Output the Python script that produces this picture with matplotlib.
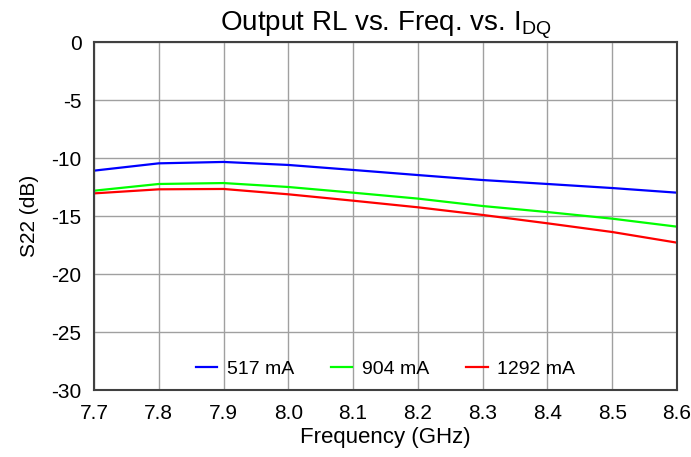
import matplotlib
matplotlib.use("Agg")
import matplotlib.pyplot as plt

freq = [7.7, 7.8, 7.9, 8.0, 8.1, 8.2, 8.3, 8.4, 8.5, 8.6]
s22_517 = [-11.09, -10.46, -10.34, -10.6, -11.03, -11.47, -11.9, -12.24, -12.59, -12.99]
s22_904 = [-12.82, -12.24, -12.16, -12.5, -12.99, -13.5, -14.14, -14.66, -15.23, -15.92]
s22_1292 = [-13.05, -12.7, -12.67, -13.13, -13.68, -14.25, -14.91, -15.63, -16.38, -17.3]
labels = ["517 mA", "904 mA", "1292 mA"]
colors = ["#0000ff", "#00ff00", "#ff0000"]
yticks = [0, -5, -10, -15, -20, -25, -30]

plt.rcParams['font.family'] = ['Liberation Sans', 'DejaVu Sans']
plt.rcParams['axes.unicode_minus'] = False
fig = plt.figure(figsize=(6.91, 4.57), dpi=100)
ax = fig.add_axes([94/691, 1 - 390/457, (677-94)/691, (390-42)/457])

for ys, lab, c in zip([s22_517, s22_904, s22_1292], labels, colors):
    ax.plot(freq, ys, color=c, lw=1.6, label=lab)

ax.set_xlim(7.7, 8.6)
ax.set_ylim(-30, 0)
ax.set_xticks(freq)
ax.set_xticklabels([f"{f:.1f}" for f in freq])
ax.set_yticks(yticks)
ax.grid(True, color="#a0a0a0", lw=1.0)
ax.tick_params(labelsize=15, length=0)
ax.tick_params(axis='x', pad=10)
ax.tick_params(axis='y', pad=9)
for s in ax.spines.values():
    s.set_color("#404040")
    s.set_linewidth(1.5)
ax.set_xlabel("Frequency (GHz)", fontsize=16, labelpad=3)
ax.set_ylabel("S22 (dB)", fontsize=15, labelpad=9)
ax.set_title("Output RL vs. Freq. vs. I$_{\\mathregular{DQ}}$", fontsize=20, pad=4)
leg = ax.legend(loc="lower center", ncol=3, frameon=False, fontsize=14,
                bbox_to_anchor=(0.5, -0.015), handlelength=1.1, columnspacing=1.9,
                handletextpad=0.5)
fig.savefig("out.png", dpi=100)
